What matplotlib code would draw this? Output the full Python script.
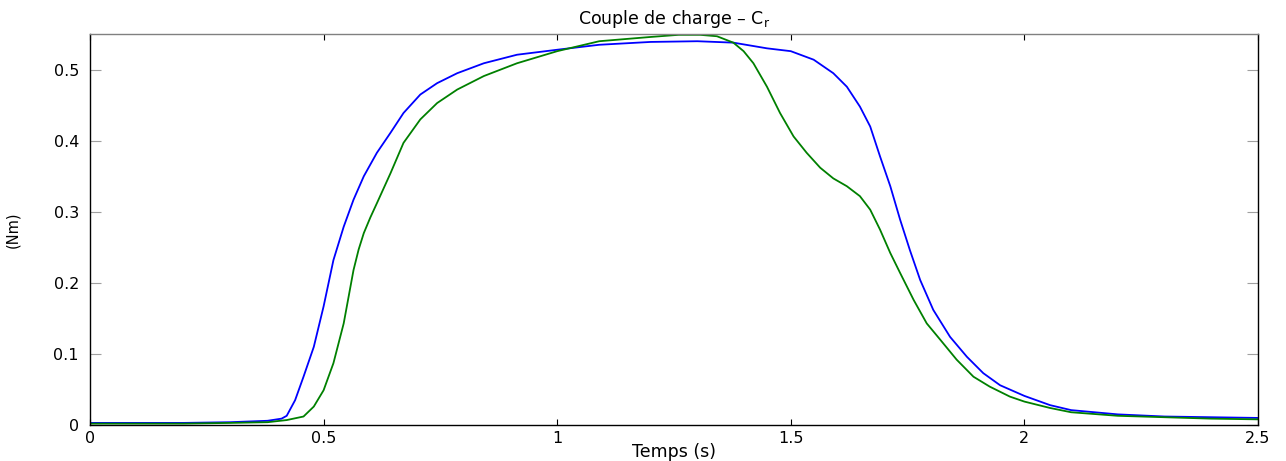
import matplotlib.pyplot as plt

plt.rcParams['font.family'] = ['DejaVu Sans']
plt.rcParams['mathtext.fontset'] = 'dejavusans'

# temps (s) et couple (Nm)
t_blue = [0, 0.1, 0.2, 0.3, 0.38, 0.41, 0.421, 0.439, 0.457, 0.479, 0.5, 0.521,
          0.543, 0.564, 0.586, 0.614, 0.643, 0.671, 0.707, 0.743, 0.786, 0.843,
          0.914, 1.0, 1.09, 1.2, 1.3, 1.377, 1.449, 1.5, 1.549, 1.591, 1.62,
          1.648, 1.67, 1.691, 1.713, 1.734, 1.755, 1.777, 1.805, 1.841, 1.877,
          1.912, 1.948, 2.0, 2.055, 2.1, 2.2, 2.3, 2.4, 2.5]
c_blue = [0.003, 0.003, 0.003, 0.004, 0.006, 0.009, 0.013, 0.035, 0.068, 0.110,
          0.167, 0.232, 0.279, 0.317, 0.350, 0.383, 0.411, 0.439, 0.465, 0.481,
          0.495, 0.509, 0.521, 0.528, 0.535, 0.539, 0.540, 0.538, 0.530, 0.526,
          0.514, 0.495, 0.476, 0.448, 0.420, 0.378, 0.336, 0.289, 0.246, 0.204,
          0.162, 0.124, 0.096, 0.073, 0.056, 0.041, 0.028, 0.021, 0.015, 0.012,
          0.011, 0.010]

t_green = [0, 0.1, 0.2, 0.3, 0.38, 0.421, 0.457, 0.479, 0.5, 0.521, 0.543, 0.564,
           0.575, 0.586, 0.6, 0.614, 0.643, 0.671, 0.707, 0.743, 0.786, 0.843,
           0.914, 1.0, 1.09, 1.2, 1.26, 1.306, 1.342, 1.377, 1.399, 1.42, 1.449,
           1.477, 1.506, 1.534, 1.563, 1.591, 1.62, 1.648, 1.67, 1.691, 1.713,
           1.734, 1.763, 1.791, 1.82, 1.855, 1.891, 1.926, 1.969, 2.0, 2.055,
           2.1, 2.2, 2.3, 2.4, 2.5]
c_green = [0.002, 0.002, 0.002, 0.003, 0.004, 0.007, 0.012, 0.026, 0.049, 0.087,
           0.143, 0.218, 0.247, 0.270, 0.292, 0.312, 0.354, 0.397, 0.430, 0.453,
           0.472, 0.491, 0.509, 0.526, 0.540, 0.546, 0.549, 0.549, 0.547, 0.538,
           0.526, 0.509, 0.476, 0.439, 0.406, 0.383, 0.362, 0.347, 0.336, 0.322,
           0.303, 0.275, 0.242, 0.214, 0.176, 0.143, 0.120, 0.092, 0.068, 0.054,
           0.040, 0.033, 0.024, 0.018, 0.013, 0.011, 0.009, 0.008]

xticks = [0, 0.5, 1, 1.5, 2, 2.5]
xticklabels = ['0', '0.5', '1', '1.5', '2', '2.5']
yticks = [0, 0.1, 0.2, 0.3, 0.4, 0.5]
yticklabels = ['0', '0.1', '0.2', '0.3', '0.4', '0.5']

fig = plt.figure(figsize=(12.86, 4.61), dpi=100)
ax = fig.add_axes([0.07, 0.078, 0.9082, 0.848])

ax.plot(t_blue, c_blue, color='#0000ff', lw=1.3)
ax.plot(t_green, c_green, color='#008000', lw=1.3)

ax.set_xlim(0, 2.5)
ax.set_ylim(0, 0.55)
ax.set_xticks(xticks)
ax.set_xticklabels(xticklabels)
ax.set_yticks(yticks)
ax.set_yticklabels(yticklabels)

ax.tick_params(axis='both', direction='in', labelsize=11.5, top=True, right=True)
ax.tick_params(axis='x', length=4, color='black', pad=4)
ax.tick_params(axis='y', length=8, color='#a0a0a0', pad=8)

ax.spines['top'].set_color('#808080')
for s in ['left', 'right', 'bottom']:
    ax.spines[s].set_color('black')
for s in ax.spines.values():
    s.set_linewidth(1.0)

ax.set_title('Couple de charge \u2013 C$_\\mathrm{r}$', fontsize=12.5, pad=7)
ax.set_xlabel('Temps (s)', fontsize=12.5, labelpad=-2)
ax.set_ylabel('(Nm)', fontsize=10.5, labelpad=24)

fig.savefig('out.png', dpi=100)
